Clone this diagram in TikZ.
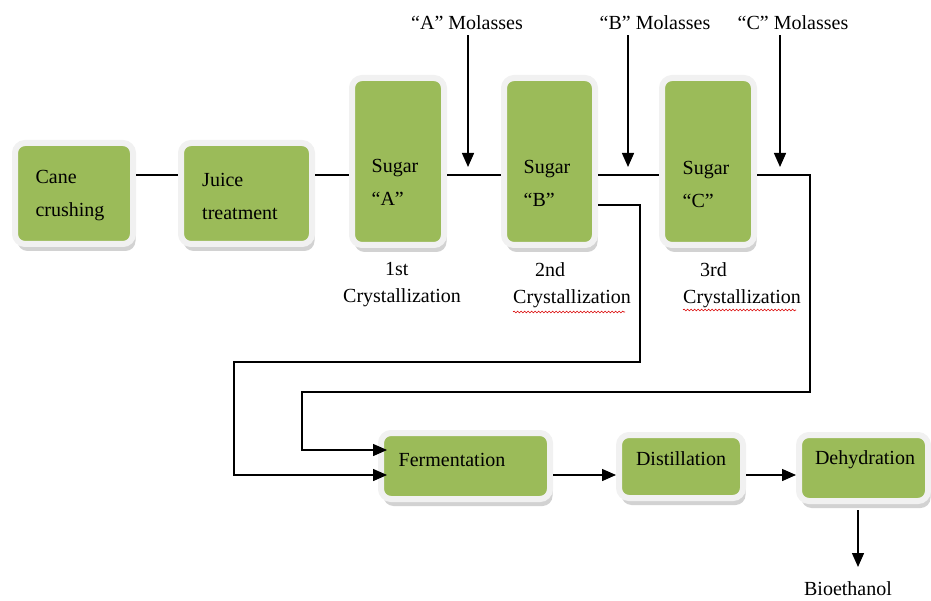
\documentclass[tikz,border=0pt]{standalone}
\usepackage{fontspec}
\setmainfont{Liberation Serif}
\usetikzlibrary{arrows.meta,shadows,decorations.pathmorphing}
\definecolor{boxgreen}{HTML}{9BBB59}
\definecolor{boxrim}{HTML}{F1F1F1}
\begin{document}
\begin{tikzpicture}[x=1pt,y=-1pt,
  procbox/.style={draw=boxrim, line width=6pt, fill=boxgreen, rounded corners=10pt,
    drop shadow={shadow xshift=2.5pt, shadow yshift=-7pt, fill=black!35}},
  boxtxt/.style={font=\fontsize{20}{33}\selectfont, inner sep=0pt, align=left},
  labtxt/.style={font=\fontsize{20}{27}\selectfont, inner sep=0pt, align=left},
  flow/.style={line width=1.4pt, draw=black},
  arr/.style={flow, -{Triangle[length=14pt,width=12pt]}},
  squig/.style={draw=red!85!black, line width=0.6pt, decorate,
    decoration={snake, amplitude=0.9pt, segment length=3.5pt}}
]
\useasboundingbox (0,0) rectangle (931,601);

% process boxes
\node[procbox, minimum width=118pt, minimum height=101pt] (cane) at (74,193.5) {};
\node[procbox, minimum width=131pt, minimum height=101pt] (juice) at (246.5,193.5) {};
\node[procbox, minimum width=92pt, minimum height=167pt] (sugA) at (398,161.5) {};
\node[procbox, minimum width=91pt, minimum height=167pt] (sugB) at (549.5,161.5) {};
\node[procbox, minimum width=92pt, minimum height=167pt] (sugC) at (708,161.5) {};
\node[procbox, minimum width=169pt, minimum height=66pt] (ferm) at (465.5,466) {};
\node[procbox, minimum width=124pt, minimum height=63pt] (dist) at (681,466.5) {};
\node[procbox, minimum width=129pt, minimum height=66pt] (dehy) at (863.5,468) {};

% box texts
\node[boxtxt] (canet) at (70,196) {Cane\\crushing};
\node[boxtxt] (juicet) at (240,196) {Juice\\treatment};
\node[boxtxt] (sugAt) at (395,182) {Sugar\\“A”};
\node[boxtxt] (sugBt) at (547,183) {Sugar\\“B”};
\node[boxtxt] (sugCt) at (706,184) {Sugar\\“C”};
\node[boxtxt] (fermt) at (452,460) {Fermentation};
\node[boxtxt] (distt) at (681,459) {Distillation};
\node[boxtxt] (dehyt) at (865,460) {Dehydration};

% free labels
\node[labtxt, anchor=west] (cry1) at (343,285) {\hspace*{42pt}1st\\Crystallization};
\node[labtxt, anchor=west] (cry2) at (513,285) {\hspace*{22pt}2nd\\Crystallization};
\node[labtxt, anchor=west] (cry3) at (683,285) {\hspace*{17pt}3rd\\Crystallization};
\node[labtxt] (molA) at (467,23) {“A” Molasses};
\node[labtxt] (molB) at (655,23) {“B” Molasses};
\node[labtxt] (molC) at (793,23) {“C” Molasses};
\node[labtxt] (bio) at (848,589) {Bioethanol};

% spell-check underlines
\draw[squig] (513,312) -- (625,312);
\draw[squig] (683,310) -- (796,310);

% coordinates
\coordinate (m) at (0,175);
\coordinate (tA) at (468,167);
\coordinate (tB) at (628,167);
\coordinate (tC) at (780,167);
\coordinate (c0) at (810,175);
\coordinate (c1) at (810,392);
\coordinate (c2) at (302,392);
\coordinate (c3) at (302,450);
\coordinate (b0) at (640,205);
\coordinate (b1) at (640,362);
\coordinate (b2) at (234,362);
\coordinate (b3) at (234,475);
\coordinate (fin) at ([xshift=9pt]ferm.west);
\coordinate (f0) at (0,475);
\coordinate (bx) at (858,0);
\coordinate (bt) at (858,567);

% main line
\draw[flow] (cane.east |- m) -- (juice.west |- m);
\draw[flow] (juice.east |- m) -- (sugA.west |- m);
\draw[flow] (sugA.east |- m) -- (sugB.west |- m);
\draw[flow] (sugB.east |- m) -- (sugC.west |- m);

% molasses inputs
\draw[arr] (tA |- molA.south) ++(0,5) -- (tA);
\draw[arr] (tB |- molB.south) ++(0,5) -- (tB);
\draw[arr] (tC |- molC.south) ++(0,5) -- (tC);

% returns to fermentation
\draw[arr] (sugC.east |- m) -- (c0) -- (c1) -- (c2) -- (c3) -- (fin |- c3);
\draw[arr] (sugB.east |- b0) -- (b0) -- (b1) -- (b2) -- (b3) -- (fin |- b3);

% lower chain
\draw[arr] (ferm.east |- f0) -- (dist.west |- f0);
\draw[arr] (dist.east |- f0) -- (dehy.west |- f0);
\draw[arr] (dehy.south -| bx) ++(0,6) -- (bt);
\end{tikzpicture}
\end{document}
